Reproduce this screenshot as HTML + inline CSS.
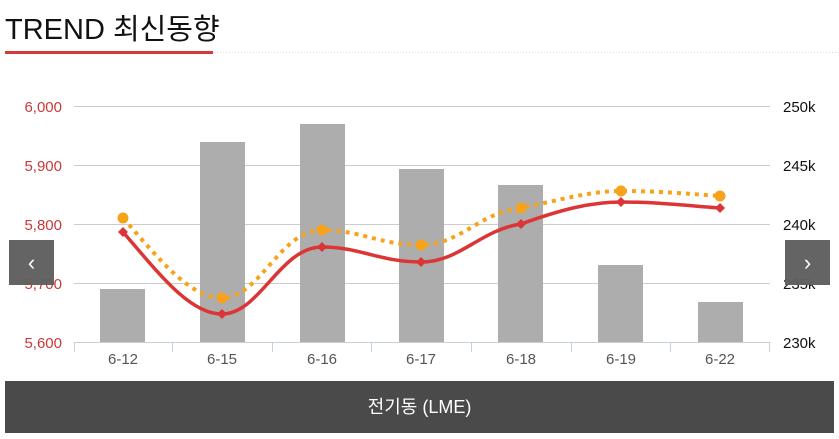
<!DOCTYPE html><html><head><meta charset="utf-8"><style>
body{margin:0;width:839px;height:439px;background:#fff;overflow:hidden;font-family:"Liberation Sans","Noto Sans CJK KR",sans-serif;position:relative}
.t{position:absolute;left:5px;top:6px;font-size:29px;color:#111}
.nav{position:absolute;top:240px;width:45px;height:45px;background:#606060;color:#fff;font-size:22px;text-align:center;line-height:45px;opacity:.97}
.bot{position:absolute;left:5px;top:381px;width:829px;height:52px;background:#4a4a4a;color:#fff;font-size:18px;text-align:center;line-height:52px}
</style></head><body>
<div class="t">TREND 최신동향</div>
<svg width="839" height="439" style="position:absolute;left:0;top:0">
<rect x="5" y="51" width="208" height="3" fill="#d33b3b"/>
<line x1="214" y1="52.5" x2="839" y2="52.5" stroke="#ddd" stroke-dasharray="1,2"/>
<g stroke="#ccc" stroke-width="1">
<line x1="74" x2="770" y1="106.5" y2="106.5"/><line x1="74" x2="770" y1="165.5" y2="165.5"/><line x1="74" x2="770" y1="224.5" y2="224.5"/><line x1="74" x2="770" y1="283.5" y2="283.5"/></g>
<g fill="#adadad">
<rect x="100" y="289" width="45" height="53"/><rect x="200" y="142" width="45" height="200"/><rect x="300" y="124" width="45" height="218"/><rect x="399" y="169" width="45" height="173"/><rect x="498" y="185" width="45" height="157"/><rect x="598" y="265" width="45" height="77"/><rect x="698" y="302" width="45" height="40"/></g>
<g stroke="#c5d0dc"><line x1="74" x2="770" y1="342.5" y2="342.5"/>
<line x1="74.5" x2="74.5" y1="342" y2="352"/><line x1="172.5" x2="172.5" y1="342" y2="352"/><line x1="272.5" x2="272.5" y1="342" y2="352"/><line x1="371.5" x2="371.5" y1="342" y2="352"/><line x1="471.5" x2="471.5" y1="342" y2="352"/><line x1="571.5" x2="571.5" y1="342" y2="352"/><line x1="670.5" x2="670.5" y1="342" y2="352"/><line x1="769.5" x2="769.5" y1="342" y2="352"/></g>
<path d="M123,218 C160,260 190,298 222,298 C260,298 280,230 322,230 C360,230 380,245 421,245 C460,245 480,212 521,208 C560,200 590,191 621,191 C660,191 690,194 720,196" fill="none" stroke="#f7a21b" stroke-width="4" stroke-dasharray="4,5"/>
<path d="M123,232 C160,275 190,314 222,314 C260,314 280,247 322,247 C360,247 380,262 421,262 C460,262 480,230 521,224 C560,210 590,202 621,202 C660,202 690,206 720,208" fill="none" stroke="#dc3535" stroke-width="3.5"/>
<g fill="#f7a21b"><circle cx="123" cy="218" r="5.5"/><circle cx="222" cy="298" r="5.5"/><circle cx="322" cy="230" r="5.5"/><circle cx="421" cy="245" r="5.5"/><circle cx="521" cy="208" r="5.5"/><circle cx="621" cy="191" r="5.5"/><circle cx="720" cy="196" r="5.5"/></g>
<g fill="#dc3535"><path d="M123,227l5,5-5,5-5-5z"/><path d="M222,309l5,5-5,5-5-5z"/><path d="M322,242l5,5-5,5-5-5z"/><path d="M421,257l5,5-5,5-5-5z"/><path d="M521,219l5,5-5,5-5-5z"/><path d="M621,197l5,5-5,5-5-5z"/><path d="M720,203l5,5-5,5-5-5z"/></g>
<g font-size="15" fill="#c8393b" text-anchor="end" font-family="Liberation Sans,sans-serif">
<text x="62" y="112">6,000</text><text x="62" y="171">5,900</text><text x="62" y="230">5,800</text><text x="62" y="289">5,700</text><text x="62" y="348">5,600</text></g>
<g font-size="15" fill="#111" font-family="Liberation Sans,sans-serif">
<text x="783" y="112">250k</text><text x="783" y="171">245k</text><text x="783" y="230">240k</text><text x="783" y="289">235k</text><text x="783" y="348">230k</text></g>
<g font-size="15" fill="#555" text-anchor="middle" font-family="Liberation Sans,sans-serif">
<text x="123" y="364">6-12</text><text x="222" y="364">6-15</text><text x="322" y="364">6-16</text><text x="421" y="364">6-17</text><text x="521" y="364">6-18</text><text x="621" y="364">6-19</text><text x="720" y="364">6-22</text></g>
</svg>
<div class="nav" style="left:9px">&#8249;</div>
<div class="nav" style="left:785px">&#8250;</div>
<div class="bot">전기동 (LME)</div>
</body></html>
